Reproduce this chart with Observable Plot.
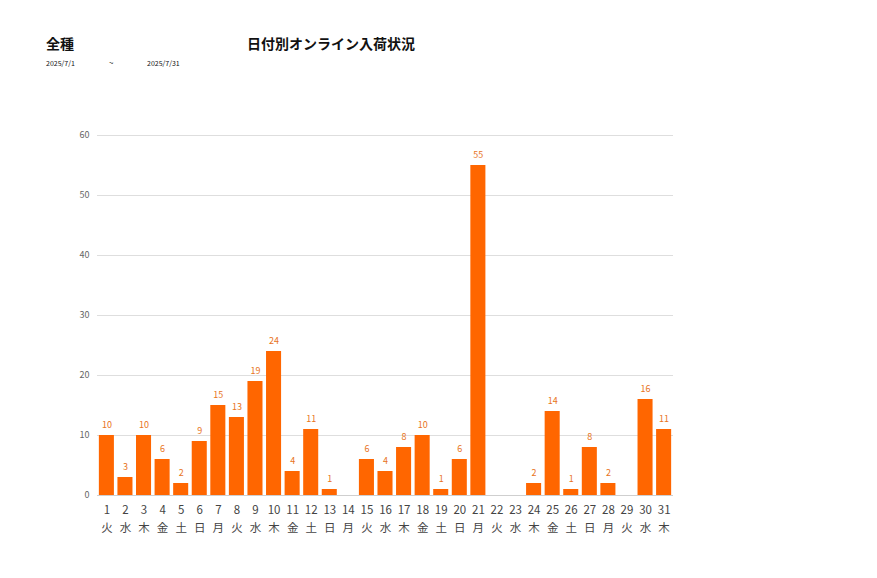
<!DOCTYPE html>
<html>
<head>
<meta charset="utf-8">
<script src="https://cdn.jsdelivr.net/npm/d3@7"></script>
<script src="https://cdn.jsdelivr.net/npm/@observablehq/plot@0.6"></script>
<style>
  body { margin: 0; background: #fff; font-family: "Noto Sans CJK JP", "Noto Sans", sans-serif; }
  #wrap { position: relative; width: 877px; height: 578px; }
  .t { position: absolute; white-space: nowrap; color: #111; }
  #plot { position: absolute; left: 0; top: 0; }
</style>
</head>
<body>
<div id="wrap">
  <div id="plot"></div>
  <div class="t" style="left:46px;top:33px;font-size:14px;font-weight:bold;">全種</div>
  <div class="t" style="left:247px;top:33px;font-size:14px;font-weight:bold;">日付別オンライン入荷状況</div>
  <div class="t" style="left:46px;top:58px;font-size:7px;">2025/7/1</div>
  <div class="t" style="left:109px;top:57px;font-size:8px;">~</div>
  <div class="t" style="left:147px;top:58px;font-size:7px;">2025/7/31</div>
</div>
<script>
const days = ["1","2","3","4","5","6","7","8","9","10","11","12","13","14","15","16","17","18","19","20","21","22","23","24","25","26","27","28","29","30","31"];
const weekdays = ["火","水","木","金","土","日","月","火","水","木","金","土","日","月","火","水","木","金","土","日","月","火","水","木","金","土","日","月","火","水","木"];
const counts = [10,3,10,6,2,9,15,13,19,24,4,11,1,0,6,4,8,10,1,6,55,0,0,2,14,1,8,2,0,16,11];
const yTicks = [0,10,20,30,40,50,60];

const data = days.map((d, i) => ({day: d, wd: weekdays[i], n: counts[i]}));
const nonzero = data.filter(d => d.n > 0);

const chart = Plot.plot({
  width: 877,
  height: 578,
  marginLeft: 97,
  marginRight: 204,
  marginTop: 135,
  marginBottom: 83,
  style: {fontFamily: '"Noto Sans CJK JP", "Noto Sans", sans-serif', background: "transparent"},
  x: {domain: days, paddingInner: 0.19, paddingOuter: 0.1, round: false, axis: null},
  y: {domain: [0, 60], axis: null},
  marks: [
    Plot.ruleY(yTicks.filter(v => v > 0), {stroke: "#dedede", strokeWidth: 1}),
    Plot.ruleY([0], {stroke: "#cfcfcf", strokeWidth: 1}),
    Plot.text(yTicks, {x: null, y: d => d, text: d => String(d), frameAnchor: "left", textAnchor: "end", dx: -8, fontSize: 9, fill: "#666"}),
    Plot.barY(data, {x: "day", y: "n", fill: "#ff6600"}),
    Plot.text(nonzero, {x: "day", y: "n", text: d => String(d.n), dy: -10, fontSize: 9, fill: "#e8741c"}),
    Plot.text(data, {x: "day", text: "day", frameAnchor: "bottom", dy: 18, fontSize: 11.5, fill: "#444"}),
    Plot.text(data, {x: "day", text: "wd", frameAnchor: "bottom", dy: 36, fontSize: 11.5, fill: "#444"})
  ]
});
document.getElementById("plot").appendChild(chart);
</script>
</body>
</html>
